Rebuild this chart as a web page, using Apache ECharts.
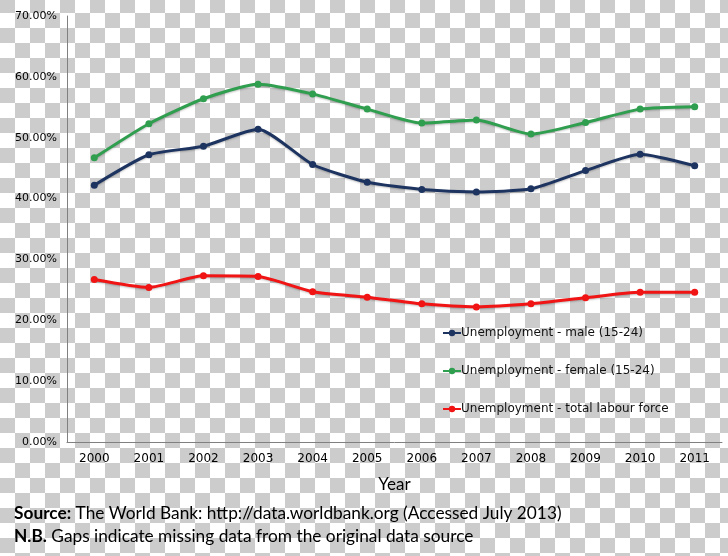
<!DOCTYPE html>
<html><head><meta charset="utf-8">
<script src="https://cdn.jsdelivr.net/npm/echarts@6/dist/echarts.min.js"></script>
<style>
html,body{margin:0;padding:0;}
body{width:728px;height:556px;background-color:#fff;
background-image:conic-gradient(#fff 25%, #cccccc 0 50%, #fff 0 75%, #cccccc 0);
background-size:30px 30px;background-position:0 -2px;}
#c{width:728px;height:556px;}
</style></head><body><div id="c"></div>
<script>
var years = ['2000','2001','2002','2003','2004','2005','2006','2007','2008','2009','2010','2011'];
var male = [42.2, 47.2, 48.6, 51.4, 45.6, 42.7, 41.5, 41.1, 41.6, 44.6, 47.3, 45.4];
var female = [46.7, 52.3, 56.4, 58.8, 57.2, 54.7, 52.4, 52.9, 50.6, 52.5, 54.7, 55.1];
var total = [26.7, 25.4, 27.3, 27.2, 24.7, 23.8, 22.7, 22.2, 22.7, 23.7, 24.6, 24.6];
var seriesNames = ['Unemployment - male (15-24)','Unemployment - female (15-24)','Unemployment - total labour force'];
var colors = ['#1d3461','#2f9e4f','#f01414'];
var chart = echarts.init(document.getElementById('c'), null, {renderer:'canvas'});
function mk(name, data, color){
  return {name:name, type:'line', data:data, smooth:0.2, symbol:'circle', symbolSize:7,
    lineStyle:{width:3,color:color,shadowColor:'rgba(0,0,0,0.25)',shadowBlur:2,shadowOffsetY:1},
    itemStyle:{color:color}, emphasis:{disabled:true}};
}
chart.setOption({
  animation:false,
  backgroundColor:'transparent',
  grid:{left:67,right:6,top:16,bottom:114,containLabel:false},
  legend:{orient:'vertical',left:437,top:315,itemWidth:18,itemHeight:8,itemGap:12,
    textStyle:{fontFamily:'DejaVu Sans',fontSize:12,lineHeight:14,color:'#111',padding:[12,0,0,-5]},
    data:seriesNames},
  xAxis:{type:'category',data:years,boundaryGap:true,
    axisLine:{lineStyle:{color:'#808080',width:1}},axisTick:{show:false},
    axisLabel:{fontFamily:'DejaVu Sans',fontSize:12,color:'#000',margin:11},
    name:'Year',nameLocation:'middle',nameGap:34,
    nameTextStyle:{fontFamily:'Lato',fontSize:17,color:'#000'}},
  yAxis:{type:'value',min:0,max:70,interval:10,
    axisLine:{show:true,lineStyle:{color:'#808080',width:1}},axisTick:{show:false},
    splitLine:{show:false},
    axisLabel:{fontFamily:'DejaVu Sans',fontSize:11,color:'#000',margin:10,
      formatter:function(v){return v.toFixed(2)+'%';}}},
  graphic:[
    {type:'text',left:14,top:505,style:{text:'{b|Source:} The World Bank: http://data.worldbank.org (Accessed July 2013)',
      rich:{b:{fontWeight:'bold',fontFamily:'Lato',fontSize:17.3,fill:'#000'}},
      font:'17.3px Lato',fill:'#000'}},
    {type:'text',left:14,top:528,style:{text:'{b|N.B.} Gaps indicate missing data from the original data source',
      rich:{b:{fontWeight:'bold',fontFamily:'Lato',fontSize:17.3,fill:'#000'}},
      font:'17.3px Lato',fill:'#000'}}
  ],
  series:[mk(seriesNames[0],male,colors[0]),mk(seriesNames[1],female,colors[1]),mk(seriesNames[2],total,colors[2])]
});
</script></body></html>
